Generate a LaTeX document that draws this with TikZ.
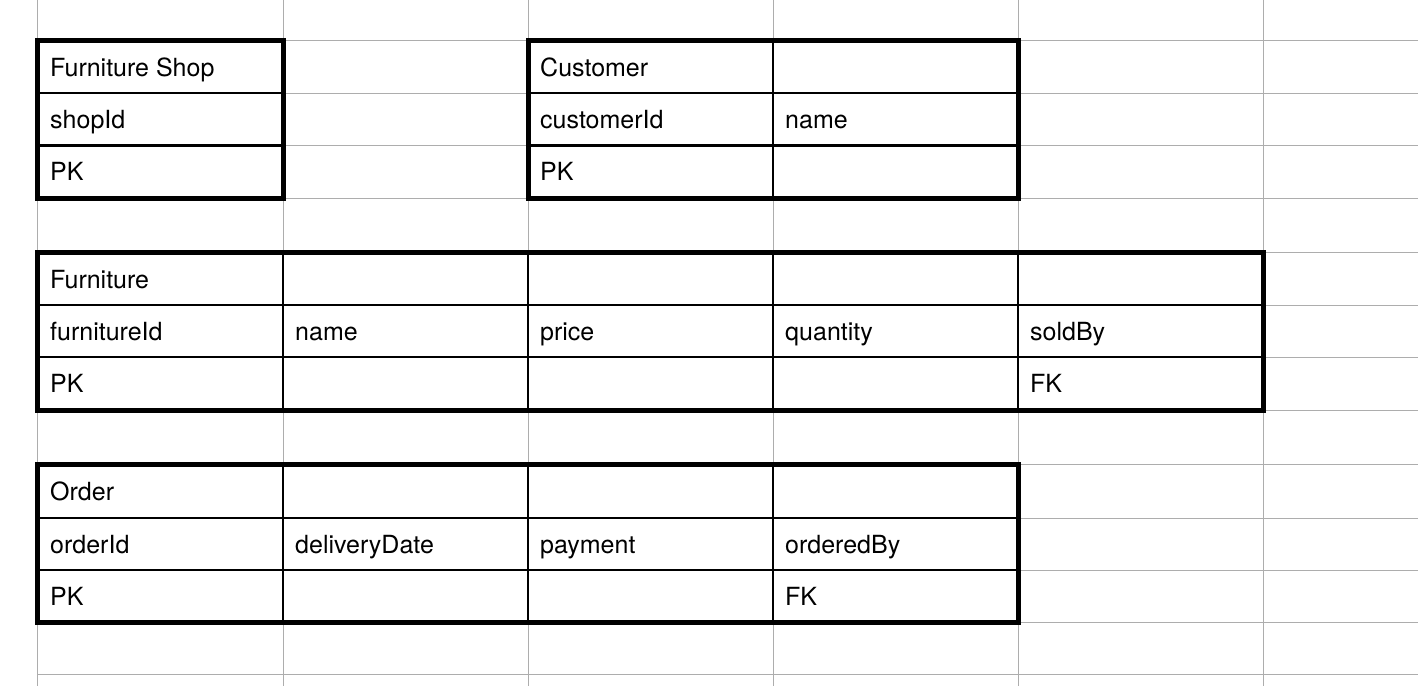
\documentclass[tikz,border=0pt]{standalone}
\usepackage{fontspec}
\setmainfont{TeX Gyre Heros}
\tikzset{
  gridline/.style={draw=black!32, line width=1pt},
  cellline/.style={draw=black, line width=2.2pt},
  frame/.style={draw=black, line width=5pt},
  cell/.style={anchor=base west, inner sep=0pt, font=\fontsize{25}{29}\selectfont},
}
\begin{document}
\begin{tikzpicture}[x=1pt, y=-1pt]
  \useasboundingbox (0,0) rectangle (1418,686);
  % spreadsheet grid behind the tables
  \foreach \x in {37,283,528,773,1018,1263}
    \draw[gridline] (\x,0) -- (\x,686);
  \foreach \y in {40.5,93,145.5,198,252,305,357,410.5,464,518,570,622,674}
    \draw[gridline] (37,\y) -- (1418,\y);

  % Furniture Shop
  \draw[cellline] (37,93) -- (283,93) (37,145.5) -- (283,145.5);
  \draw[frame] (37,40.5) rectangle (283,198);
  \node[cell] (shop) at (50,76.5) {Furniture Shop};
  \node[cell] (shopid) at (50,128.5) {shopId};
  \node[cell] (shoppk) at (50,180) {PK};

  % Customer
  \draw[cellline] (528,93) -- (1018,93) (528,145.5) -- (1018,145.5) (773,40.5) -- (773,198);
  \draw[frame] (528,40.5) rectangle (1018,198);
  \node[cell] (cust) at (540,76.5) {Customer};
  \node[cell] (custid) at (540,128.5) {customerId};
  \node[cell] (custname) at (785,128.5) {name};
  \node[cell] (custpk) at (540,180) {PK};

  % Furniture
  \draw[cellline] (37,305) -- (1263,305) (37,357) -- (1263,357);
  \foreach \x in {283,528,773,1018}
    \draw[cellline] (\x,252) -- (\x,410.5);
  \draw[frame] (37,252) rectangle (1263,410.5);
  \node[cell] (furn) at (50,288) {Furniture};
  \node[cell] (furnid) at (50,340.5) {furnitureId};
  \node[cell] (furnname) at (295,340.5) {name};
  \node[cell] (furnprice) at (540,340.5) {price};
  \node[cell] (furnqty) at (785,340.5) {quantity};
  \node[cell] (furnsold) at (1030,340.5) {soldBy};
  \node[cell] (furnpk) at (50,392.5) {PK};
  \node[cell] (furnfk) at (1030,392.5) {FK};

  % Order
  \draw[cellline] (37,518) -- (1018,518) (37,570) -- (1018,570);
  \foreach \x in {283,528,773}
    \draw[cellline] (\x,464) -- (\x,622);
  \draw[frame] (37,464) rectangle (1018,622);
  \node[cell] (ord) at (50,500) {Order};
  \node[cell] (ordid) at (50,553.5) {orderId};
  \node[cell] (orddate) at (295,553.5) {deliveryDate};
  \node[cell] (ordpay) at (540,553.5) {payment};
  \node[cell] (ordby) at (785,553.5) {orderedBy};
  \node[cell] (ordpk) at (50,605.5) {PK};
  \node[cell] (ordfk) at (785,605.5) {FK};
\end{tikzpicture}
\end{document}
